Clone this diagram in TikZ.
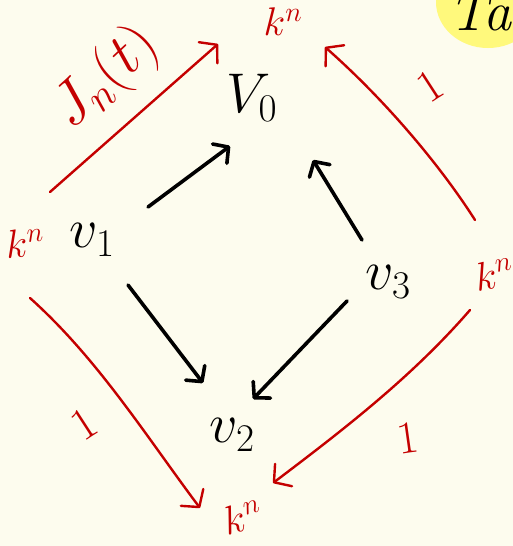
\RequirePackage{fix-cm}
\documentclass[tikz,border=0pt]{standalone}
\usetikzlibrary{arrows.meta,calc}
\definecolor{paper}{HTML}{FDFCEE}
\definecolor{redink}{HTML}{C40000}
\definecolor{hilite}{HTML}{FFF97C}
\begin{document}
\begin{tikzpicture}[x=1pt,y=-1pt,
  vlab/.style={inner sep=0pt, font=\fontsize{56}{60}\selectfont},
  klab/.style={inner sep=0pt, text=redink, font=\fontsize{40}{44}\selectfont},
  onelab/.style={inner sep=0pt, text=redink, font=\fontsize{46}{50}\selectfont},
  blackarrow/.style={line width=3.6pt, line cap=round, -{Straight Barb[round,length=11pt,width=24pt]}},
  redarrow/.style={draw=redink, line width=2.4pt, line cap=round, -{Straight Barb[round,length=12pt,width=28pt]}},
]
\fill[paper] (0,0) rectangle (513,546);
\useasboundingbox (0,0) rectangle (513,546);
% highlighted fragment top right
\begin{scope}
  \clip (0,0) rectangle (513,546);
  \fill[hilite] (488,2) ellipse [x radius=52, y radius=46];
  \node[inner sep=0pt, anchor=base west, font=\fontsize{56}{60}\selectfont\itshape] (ta) at (448,30) {Ta};
\end{scope}
% black vertices
\node[vlab] (V0) at (252,98) {$V_0$};
\node[vlab] (V1) at (92,240) {$v_1$};
\node[vlab] (V2) at (232,435) {$v_2$};
\node[vlab] (V3) at (388,282) {$v_3$};
% red spaces
\node[klab] (kT) at (283,22) {$k^n$};
\node[klab, rotate=5] (kL) at (25,243) {$k^n$};
\node[klab, rotate=10] (kR) at (494,274) {$k^n$};
\node[klab, rotate=15] (kB) at (243,517) {$k^n$};
% labels of red arrows
\node[inner sep=0pt, text=redink, font=\fontsize{60}{64}\selectfont, rotate=43] (lJ) at (106,78) {$J_n(t)$};
\node[onelab, rotate=33] (l1) at (430,86) {$1$};
\node[onelab, rotate=33] (l2) at (84,424) {$1$};
\node[onelab, rotate=8] (l3) at (408,438) {$1$};
% arrow end points
\coordinate (a1s) at (148,207); \coordinate (a1e) at (230,146);
\coordinate (a2s) at (362,240); \coordinate (a2e) at (313,160);
\coordinate (a3s) at (128,285); \coordinate (a3e) at (203,383);
\coordinate (a4s) at (347,301); \coordinate (a4e) at (253,399);
\coordinate (r1s) at (50,192);  \coordinate (r1e) at (218,44);
\coordinate (r2s) at (475,220); \coordinate (r2e) at (325,47);
\coordinate (r3s) at (30,298);  \coordinate (r3e) at (200,508);
\coordinate (r4s) at (470,310); \coordinate (r4e) at (273,483);
% black arrows
\draw[blackarrow] (a1s) -- (a1e);
\draw[blackarrow] (a2s) -- (a2e);
\draw[blackarrow] (a3s) -- (a3e);
\draw[blackarrow] (a4s) -- (a4e);
% red arrows
\draw[redarrow] (r1s) -- (r1e);
\draw[redarrow] (r2s) .. controls (440,165) and (385,100) .. (r2e);
\draw[redarrow] (r3s) .. controls (98,359) and (146,436) .. (r3e);
\draw[redarrow] (r4s) .. controls (412,377) and (343,430) .. (r4e);
\end{tikzpicture}
\end{document}
